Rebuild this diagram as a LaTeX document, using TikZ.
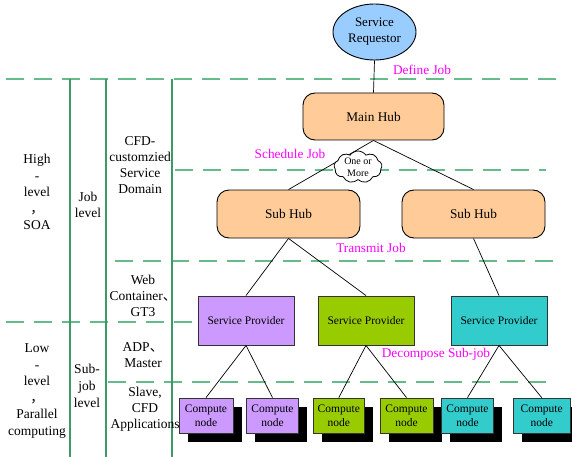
\documentclass[tikz,border=0pt]{standalone}
\usepackage{fontspec}
\setmainfont{Liberation Serif}
\newfontfamily\cjk{Noto Sans CJK SC}
\usetikzlibrary{shapes.geometric,shapes.symbols,shadows}
\definecolor{reqblue}{HTML}{99CCFF}
\definecolor{hubfill}{HTML}{FFCC99}
\definecolor{spurple}{HTML}{CC99FF}
\definecolor{sgreen}{HTML}{99CC00}
\definecolor{scyan}{HTML}{33CCCC}
\definecolor{lblmag}{HTML}{FF00FF}
\definecolor{dashgreen}{HTML}{66BB8C}
\definecolor{vgreen}{HTML}{3A9A68}
\tikzset{
  hub/.style={draw=black, line width=0.9pt, fill=hubfill, rounded corners=12pt,
    minimum height=47pt, inner sep=0pt, font=\fontsize{13.3}{15}\selectfont},
  spbox/.style={draw=black!80, line width=0.9pt, minimum width=96pt, minimum height=49pt,
    inner sep=0pt, font=\fontsize{11.5}{13}\selectfont},
  cnode/.style={draw=black!80, line width=0.8pt, minimum height=35pt, inner sep=0pt,
    align=center, font=\fontsize{11.5}{14}\selectfont,
    general shadow={fill=black, shadow xshift=8.5pt, shadow yshift=-8.5pt}},
  conn/.style={draw=black, line width=0.7pt},
  sep/.style={draw=dashgreen, line width=1.4pt, dash pattern=on 18pt off 10pt},
  vline/.style={draw=vgreen, line width=1.8pt},
  coltext/.style={align=center, inner sep=0pt, font=\fontsize{13.5}{16}\selectfont},
  lbl/.style={text=lblmag, inner sep=0pt, font=\fontsize{13.3}{15}\selectfont}
}
\begin{document}
\begin{tikzpicture}[x=1pt,y=-1pt]
\useasboundingbox[fill=white] (0,0) rectangle (572,457);
% separators
\coordinate (d1a) at (6,79);   \coordinate (d1b) at (556,79);
\coordinate (d2a) at (175,170); \coordinate (d2b) at (546,170);
\coordinate (d3a) at (115,261); \coordinate (d3b) at (556,261);
\coordinate (d4a) at (6,322);   \coordinate (d4b) at (194,322);
\coordinate (d5a) at (108,382); \coordinate (d5b) at (547,382);
\draw[sep] (d1a) -- (d1b);
\draw[sep] (d2a) -- (d2b);
\draw[sep] (d3a) -- (d3b);
\draw[sep] (d4a) -- (d4b);
\draw[sep] (d5a) -- (d5b);
\coordinate (v1a) at (70,79);  \coordinate (v1b) at (70,457);
\coordinate (v2a) at (106,79); \coordinate (v2b) at (106,457);
\coordinate (v3a) at (172,79); \coordinate (v3b) at (172,457);
\draw[vline] (v1a) -- (v1b);
\draw[vline] (v2a) -- (v2b);
\draw[vline] (v3a) -- (v3b);
% column texts
\node[coltext, font=\fontsize{13.5}{16.5}\selectfont] (high) at (37,192) {High\\-\\level\\{\cjk ，}\\SOA};
\node[coltext, font=\fontsize{13.5}{16.5}\selectfont] (low) at (37,391) {Low\\-\\level\\{\cjk ，}\\Parallel\\computing};
\node[coltext] (joblvl) at (88,205) {Job\\level};
\node[coltext, font=\fontsize{13.5}{17}\selectfont] (subjob) at (87,386) {Sub-\\job\\level};
\node[coltext] (cfd) at (140,165) {CFD-\\customzied\\Service\\Domain};
\node[coltext] (web) at (143,296) {Web\\Container{\cjk 、}\\GT3};
\node[coltext] (adp) at (143,355) {ADP{\cjk 、}\\Master};
\node[coltext] (slave) at (145,409) {Slave,\\CFD\\Applications};
% main nodes
\node[ellipse, draw=black, line width=0.9pt, fill=reqblue, minimum width=83pt, minimum height=56pt,
  inner sep=0pt, align=center, font=\fontsize{13}{16}\selectfont] (req) at (374.5,32) {Service\\Requestor};
\node[hub, minimum width=141pt] (mh) at (373.5,116.5) {Main Hub};
\node[hub, minimum width=143pt, minimum height=48pt] (subL) at (288.5,214) {Sub Hub};
\node[hub, minimum width=143pt, minimum height=48pt] (subR) at (473.5,214) {Sub Hub};
\node[spbox, fill=spurple] (spP) at (246,320.5) {Service Provider};
\node[spbox, fill=sgreen] (spG) at (366,320.5) {Service Provider};
\node[spbox, fill=scyan] (spC) at (499,320.5) {Service Provider};
\node[cnode, fill=spurple, minimum width=54pt] (p1) at (206,415.5) {Compute\\node};
\node[cnode, fill=spurple, minimum width=52pt] (p2) at (272.5,415.5) {Compute\\node};
\node[cnode, fill=sgreen, minimum width=51pt] (g1) at (338.8,415.5) {Compute\\node};
\node[cnode, fill=sgreen, minimum width=53pt] (g2) at (406.5,415.5) {Compute\\node};
\node[cnode, fill=scyan, minimum width=52pt] (c1) at (467.5,415.5) {Compute\\node};
\node[cnode, fill=scyan, minimum width=57pt] (c2) at (541.7,415.5) {Compute\\node};
% connectors
\draw[conn] (req.south) -- (mh.north);
\draw[conn] (mh.south) -- (subL.north);
\draw[conn] (mh.south) -- (subR.north);
\draw[conn] (subL.south) -- (spP.north);
\draw[conn] (subL.south) -- (spG.north);
\draw[conn] (subR.south) -- (spC.north);
\draw[conn] (spP.south) -- (p1.north);
\draw[conn] (spP.south) -- (p2.north);
\draw[conn] (spG.south) -- (g1.north);
\draw[conn] (spG.south) -- (g2.north);
\draw[conn] (spC.south) -- (c1.north);
\draw[conn] (spC.south) -- (c2.north);
% cloud
\node[cloud, cloud puffs=9, cloud puff arc=110, aspect=1.5, draw=black, line width=0.8pt, fill=white,
  minimum width=48pt, minimum height=32pt, inner sep=0pt, align=center,
  font=\fontsize{10}{11.5}\selectfont] (cloud) at (358,167) {One or\\More};
% labels
\node[lbl] (ldef) at (422,70) {Define Job};
\node[lbl] (lsch) at (290,154) {Schedule Job};
\node[lbl] (ltra) at (371,248) {Transmit Job};
\node[lbl] (ldec) at (436,354) {Decompose Sub-job};
\end{tikzpicture}
\end{document}
